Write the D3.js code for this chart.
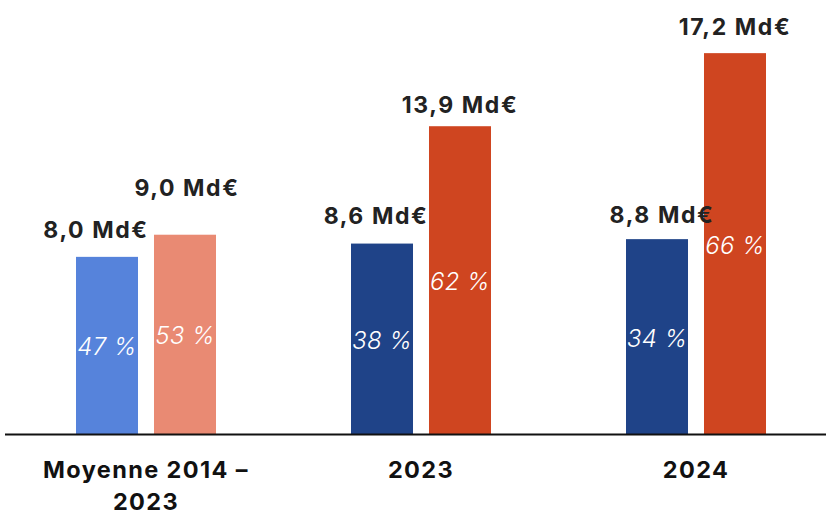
<!DOCTYPE html>
<html>
<head>
<meta charset="utf-8">
<script src="https://cdn.jsdelivr.net/npm/d3@7"></script>
<style>
  body { margin: 0; background: #fff; }
  .value { font-family: Inter, "Noto Sans", sans-serif; font-weight: 700; font-size: 23px; fill: #222; letter-spacing: 1.6px; }
  .share { font-family: Inter, "Noto Sans", sans-serif; font-weight: 300; font-style: italic; font-size: 24px; fill: #fff; letter-spacing: 0.4px; }
  .cat { font-family: Inter, "Noto Sans", sans-serif; font-weight: 700; font-size: 23.5px; fill: #111; letter-spacing: 1.4px; }
</style>
</head>
<body>
<div id="chart"></div>
<script>
// frame size
const FRAME_WIDTH = 826;
const FRAME_HEIGHT = 515;
const BASELINE = 434;

// data
const CATEGORIES = ["Moyenne 2014 – 2023", "2023", "2024"];
const CATEGORY_LINES = [["Moyenne 2014 –", "2023"], ["2023"], ["2024"]];
const SERIES = ["a", "b"];
const VALUES_A = [8.0, 8.6, 8.8];
const VALUES_B = [9.0, 13.9, 17.2];
const SHARES_A = [47, 38, 34];
const SHARES_B = [53, 62, 66];

// colours per group: [series a, series b]
const COLORS = [["#5683DB", "#E98A73"], ["#1F4388", "#CF4520"], ["#1F4388", "#CF4520"]];

// hand placed value labels (as in the original slide): [dx, gap above bar]
const LABEL_NUDGE = [[[-11, 19], [2, 39]], [[-6, 20], [0, 13]], [[5, 16], [0, 18]]];

const FRAME = d3.select("#chart")
                .append("svg")
                  .attr("width", FRAME_WIDTH)
                  .attr("height", FRAME_HEIGHT);

// rows for drawing
const rows = [];
CATEGORIES.forEach((c, i) => {
  rows.push({cat: c, gi: i, si: 0, s: "a", value: VALUES_A[i], share: SHARES_A[i]});
  rows.push({cat: c, gi: i, si: 1, s: "b", value: VALUES_B[i], share: SHARES_B[i]});
});

// scales
const X_SCALE = d3.scaleBand()
                  .domain(CATEGORIES)
                  .range([8.5, 833.5])
                  .paddingInner(0.4909)
                  .paddingOuter(0.24545);

const X_INNER = d3.scaleBand()
                  .domain(SERIES)
                  .range([0, X_SCALE.bandwidth()])
                  .paddingInner(0.205);

const Y_SCALE = d3.scaleLinear()
                  .domain([0, 19.6])
                  .range([BASELINE, 0]);

const fmt = (v) => d3.format(".1f")(v).replace(".", ",") + " Md€";
const barMid = (d) => X_SCALE(d.cat) + X_INNER(d.s) + X_INNER.bandwidth() / 2;

// bars
FRAME.selectAll(".bar")
  .data(rows)
  .enter()
  .append("rect")
    .attr("class", "bar")
    .attr("x", (d) => X_SCALE(d.cat) + X_INNER(d.s))
    .attr("y", (d) => Y_SCALE(d.value))
    .attr("width", X_INNER.bandwidth())
    .attr("height", (d) => BASELINE - Y_SCALE(d.value))
    .attr("fill", (d) => COLORS[d.gi][d.si]);

// value labels
FRAME.selectAll(".value")
  .data(rows)
  .enter()
  .append("text")
    .attr("class", "value")
    .attr("x", (d) => barMid(d) + LABEL_NUDGE[d.gi][d.si][0])
    .attr("y", (d) => Y_SCALE(d.value) - LABEL_NUDGE[d.gi][d.si][1])
    .attr("text-anchor", "middle")
    .text((d) => fmt(d.value));

// share labels
FRAME.selectAll(".share")
  .data(rows)
  .enter()
  .append("text")
    .attr("class", "share")
    .attr("x", (d) => barMid(d))
    .attr("y", (d) => (Y_SCALE(d.value) + BASELINE) / 2 + 10)
    .attr("text-anchor", "middle")
    .text((d) => d.share + " %");

// x-axis line
FRAME.append("line")
  .attr("x1", 5)
  .attr("x2", FRAME_WIDTH)
  .attr("y1", BASELINE + 0.5)
  .attr("y2", BASELINE + 0.5)
  .attr("stroke", "#111")
  .attr("stroke-width", 2);

// category labels
const cats = FRAME.selectAll(".cat")
  .data(CATEGORIES)
  .enter()
  .append("text")
    .attr("class", "cat")
    .attr("text-anchor", "middle")
    .attr("x", (d) => X_SCALE(d) + X_SCALE.bandwidth() / 2)
    .attr("y", 478);

cats.selectAll("tspan")
  .data((d, i) => CATEGORY_LINES[i])
  .enter()
  .append("tspan")
    .attr("x", function() { return this.parentNode.getAttribute("x"); })
    .attr("dy", (d, i) => i == 0 ? 0 : 32)
    .text((d) => d);
</script>
</body>
</html>
